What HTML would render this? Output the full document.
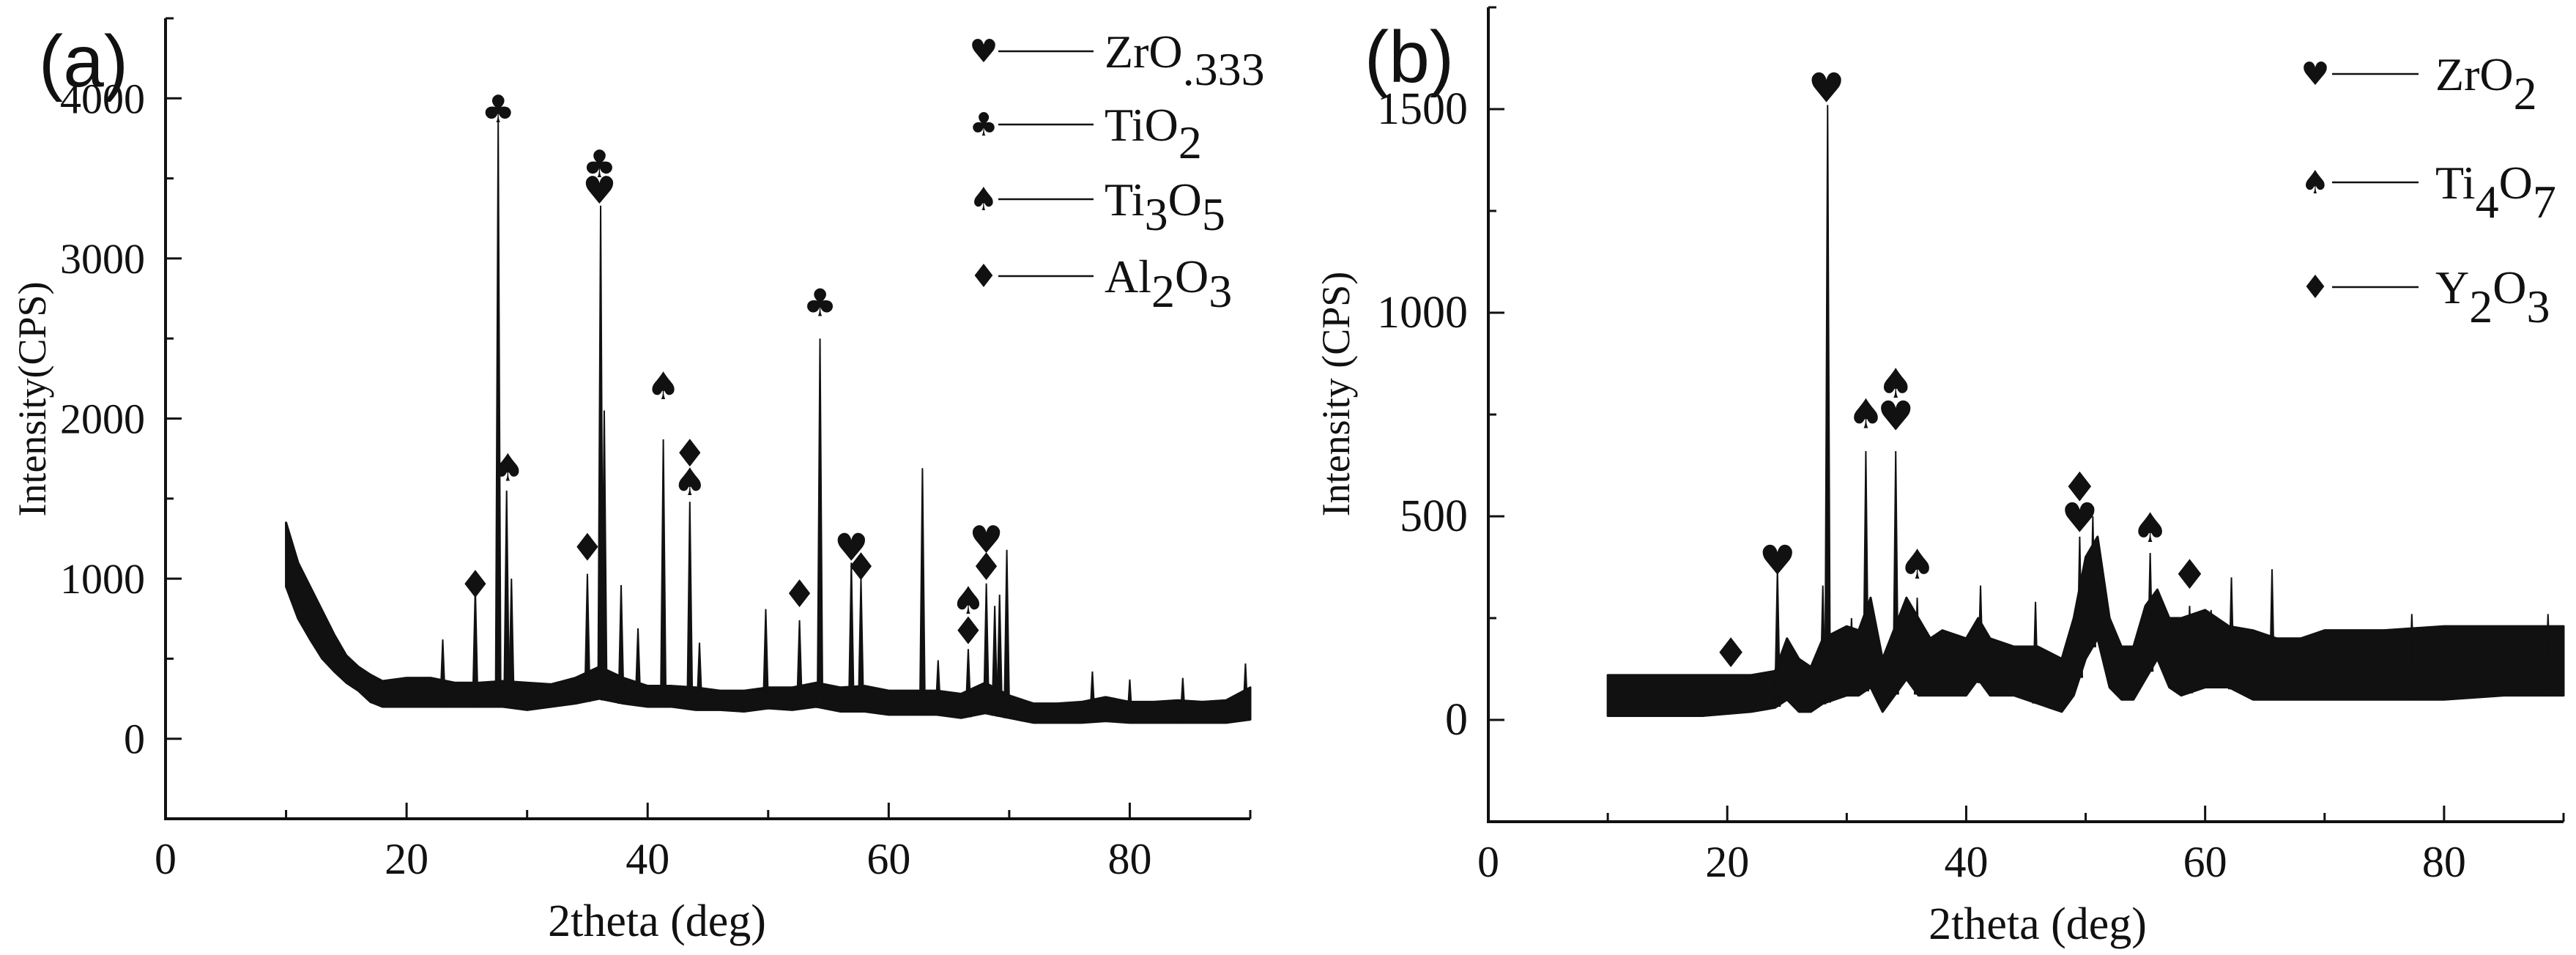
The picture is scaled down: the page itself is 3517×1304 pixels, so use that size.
<!DOCTYPE html>
<html><head><meta charset="utf-8">
<style>
html,body{margin:0;padding:0;background:#fff;}
svg{display:block;}
text{fill:#111;}
</style></head>
<body>
<svg id="chart" width="3517" height="1304" viewBox="0 0 3517 1304" xmlns="http://www.w3.org/2000/svg">
<rect width="3517" height="1304" fill="#fff"/>
</svg>
<script>
// ---------- Panel (a) data ----------
const aXTicks = [0, 20, 40, 60, 80];
const aYTicks = [0, 1000, 2000, 3000, 4000];
const aEnvX  = [10, 11, 12, 13, 14, 15, 16, 17, 18, 20, 22, 24, 26, 28, 30, 32, 34, 36, 38, 40, 42, 44, 46, 48, 50, 52, 54, 56, 58, 60, 62, 64, 66, 68, 70, 72, 74, 76, 78, 80, 82, 84, 86, 88, 90];
const aEnvLo = [950, 750, 620, 500, 420, 350, 300, 230, 200, 200, 200, 200, 200, 200, 180, 200, 220, 250, 220, 200, 200, 180, 180, 170, 190, 180, 200, 170, 170, 150, 150, 150, 130, 160, 130, 100, 100, 100, 110, 100, 100, 100, 100, 100, 120];
const aEnvHi = [1350, 1100, 950, 800, 650, 520, 450, 400, 360, 380, 380, 350, 350, 360, 350, 340, 380, 450, 380, 330, 330, 320, 300, 300, 320, 320, 350, 320, 330, 300, 300, 300, 280, 350, 270, 220, 220, 230, 260, 230, 230, 240, 230, 240, 320];
const aPeakX = [23.0, 25.7, 27.6, 28.3, 28.7, 35.0, 36.1, 36.4, 37.8, 39.2, 41.3, 43.5, 44.3, 49.8, 52.6, 54.3, 56.9, 57.7, 62.8, 64.1, 66.6, 68.1, 68.8, 69.2, 69.8, 76.9, 80.0, 84.4, 89.6];
const aPeakY = [620, 950, 3850, 1550, 1000, 1030, 3330, 2050, 960, 690, 1870, 1480, 600, 810, 740, 2500, 1100, 1000, 1690, 490, 560, 970, 830, 900, 1180, 420, 370, 380, 470];
const aMarkSym = ["club", "club", "heart", "spade", "spade", "diamond", "spade", "diamond", "diamond", "club", "diamond", "heart", "diamond", "spade", "diamond", "heart", "diamond"];
const aMarkX   = [27.6, 36.0, 36.0, 28.4, 41.3, 43.5, 43.5, 35.0, 25.7, 54.3, 52.6, 56.9, 57.7, 66.6, 66.6, 68.1, 68.1];
const aMarkY   = [3930, 3585, 3420, 1690, 2200, 1780, 1600, 1190, 960, 2720, 900, 1190, 1070, 860, 670, 1240, 1070];

// ---------- Panel (b) data ----------
const bXTicks = [0, 20, 40, 60, 80];
const bYTicks = [0, 500, 1000, 1500];
const bEnvX  = [10, 14, 18, 22, 24, 25, 26, 27, 28, 30, 31, 32, 33, 35, 36, 37, 38, 40, 41, 42, 44, 46, 48, 49, 50, 51, 52, 53, 54, 55, 56, 57, 58, 60, 62, 64, 66, 68, 70, 75, 80, 85, 90];
const bEnvLo = [10, 10, 10, 20, 30, 50, 20, 20, 40, 60, 60, 80, 20, 100, 60, 60, 60, 60, 100, 60, 60, 40, 20, 60, 150, 200, 80, 50, 50, 100, 150, 80, 60, 80, 80, 50, 50, 50, 50, 50, 50, 60, 60];
const bEnvHi = [110, 110, 110, 110, 120, 200, 150, 130, 200, 230, 220, 300, 150, 300, 250, 200, 220, 200, 250, 200, 180, 180, 150, 250, 400, 450, 250, 180, 180, 280, 320, 250, 250, 270, 230, 220, 200, 200, 220, 220, 230, 230, 230];
const bPeakX = [24.2, 28.0, 28.4, 30.4, 31.6, 34.1, 35.9, 41.2, 45.8, 49.5, 50.6, 55.4, 58.7, 60.5, 62.2, 65.6, 77.3, 88.7];
const bPeakY = [370, 330, 1510, 250, 660, 660, 300, 330, 290, 450, 500, 410, 280, 270, 350, 370, 260, 260];
const bMarkSym = ["diamond", "heart", "heart", "spade", "spade", "heart", "spade", "diamond", "heart", "spade", "diamond"];
const bMarkX   = [20.3, 24.2, 28.3, 31.6, 34.1, 34.1, 35.9, 49.5, 49.5, 55.4, 58.7];
const bMarkY   = [163, 390, 1550, 750, 825, 745, 380, 570, 495, 470, 355];

const NS = "http://www.w3.org/2000/svg";
const svg = document.getElementById("chart");
const GLYPH = {heart: "\u2665", club: "\u2663", spade: "\u2660", diamond: "\u2666"};
const SERIF = "font-family:'Liberation Serif',serif;";
const SANS = "font-family:'Liberation Sans',sans-serif;";
const SYM = "font-family:'DejaVu Sans',sans-serif;";

function mk(tag, attrs, parent) {
  const e = document.createElementNS(NS, tag);
  for (const k in attrs) e.setAttribute(k, attrs[k]);
  (parent || svg).appendChild(e);
  return e;
}
function lerp(xs, ys, x) {
  if (x <= xs[0]) return ys[0];
  for (let i = 1; i < xs.length; i++) {
    if (x <= xs[i]) { const t = (x - xs[i-1]) / (xs[i] - xs[i-1]); return ys[i-1] + t * (ys[i] - ys[i-1]); }
  }
  return ys[ys.length - 1];
}

function panel(cfg) {
  const g = mk("g", {});
  
  
  const sx = v => cfg.x0 + (v - cfg.xmin) / (cfg.xmax - cfg.xmin) * (cfg.x1 - cfg.x0);
  const sy = v => cfg.y0 - (v - cfg.ymin) / (cfg.ymax - cfg.ymin) * (cfg.y0 - cfg.y1);

  let pts = [];
  for (let i = 0; i < cfg.envX.length; i++) pts.push(sx(cfg.envX[i]) + "," + sy(cfg.envHi[i]));
  for (let i = cfg.envX.length - 1; i >= 0; i--) pts.push(sx(cfg.envX[i]) + "," + sy(cfg.envLo[i]));
  const band = mk("polygon", {points: pts.join(" "), fill: "#111", stroke: "#111", "stroke-width": 3, "stroke-linejoin": "round"}, g);
  
  

  for (let i = 0; i < cfg.peakX.length; i++) {
    const px = cfg.peakX[i], w = 0.22;
    const base = lerp(cfg.envX, cfg.envLo, px);
    const p = mk("polygon", {points: sx(px - w) + "," + sy(base) + " " + sx(px) + "," + sy(cfg.peakY[i]) + " " + sx(px + w) + "," + sy(base), fill: "#111", stroke: "#111", "stroke-width": 2, "stroke-linejoin": "miter"}, g);
    
    
  }

  for (let i = 0; i < cfg.markX.length; i++) {
    const t = mk("text", {x: sx(cfg.markX[i]), y: sy(cfg.markY[i]) + cfg.msize * 0.33, "text-anchor": "middle", style: SYM + "font-size:" + cfg.msize + "px;"}, g);
    t.textContent = GLYPH[cfg.markSym[i]];
    
    
  }

  const ax = mk("path", {d: "M" + cfg.x0 + "," + cfg.y1 + " L" + cfg.x0 + "," + cfg.y0 + " L" + cfg.x1 + "," + cfg.y0, fill: "none", stroke: "#111", "stroke-width": 4}, g);
  
  
  for (let v = cfg.xmin; v <= cfg.xmax + 0.001; v += 10) {
    const major = (v % 20 === 0);
    const tk = mk("line", {x1: sx(v), x2: sx(v), y1: cfg.y0, y2: cfg.y0 - (major ? 22 : 12), stroke: "#111", "stroke-width": 3}, g);
    
    
  }
  cfg.xTicks.forEach(v => {
    const t = mk("text", {x: sx(v), y: cfg.y0 + 75, "text-anchor": "middle", style: SERIF + "font-size:60px;"}, g);
    t.textContent = v;
    
    
  });
  for (let v = cfg.ymin; v <= cfg.ymax + 0.001; v += cfg.minorStep) {
    const major = cfg.yTicks.indexOf(v) >= 0;
    const tk = mk("line", {x1: cfg.x0, x2: cfg.x0 + (major ? 22 : 11), y1: sy(v), y2: sy(v), stroke: "#111", "stroke-width": 3}, g);
    
    
  }
  cfg.yTicks.forEach(v => {
    const t = mk("text", {x: cfg.x0 - 28, y: sy(v) + 20, "text-anchor": "end", style: SERIF + "font-size:" + cfg.ytfs + "px;"}, g);
    t.textContent = v;
    
    
  });
  const xt = mk("text", {x: cfg.xtx, y: cfg.y0 + 160, "text-anchor": "middle", style: SERIF + "font-size:62px;"}, g);
  xt.textContent = "2theta (deg)";
  
  
  const yt = mk("text", {x: 0, y: 0, "text-anchor": "middle", style: SERIF + "font-size:54px;", transform: "translate(" + cfg.ytx + "," + cfg.yty + ") rotate(-90)"}, g);
  yt.textContent = cfg.ytitle;
  
  
  const pl = mk("text", {x: cfg.plx, y: cfg.ply, "text-anchor": "middle", style: SANS + "font-size:100px;"}, g);
  pl.textContent = cfg.label;
  
  
  cfg.legend.forEach((L, i) => {
    const lg = mk("g", {}, g);
    
    
    const y = cfg.legY[i];
    const s = mk("text", {x: cfg.legMX, y: y + 15, "text-anchor": "middle", style: SYM + "font-size:44px;"}, lg);
    s.textContent = GLYPH[L.sym];
    mk("line", {x1: cfg.legL0, x2: cfg.legL1, y1: y, y2: y, stroke: "#111", "stroke-width": 2.5}, lg);
    const t = mk("text", {x: cfg.legTX, y: y + 22, style: SERIF + "font-size:" + cfg.legFs + "px;"}, lg);
    L.parts.forEach(p => {
      const ts = mk("tspan", {}, t);
      ts.textContent = p[0];
      if (p[1]) { ts.setAttribute("dy", p[1]); }
    });
  });
}

panel({name: "panel-a", x0: 226, x1: 1707, y0: 1118, y1: 25, xmin: 0, xmax: 90, ymin: -500, ymax: 4500, minorStep: 500,
  xTicks: aXTicks, yTicks: aYTicks, envX: aEnvX, envLo: aEnvLo, envHi: aEnvHi, peakX: aPeakX, peakY: aPeakY,
  markSym: aMarkSym, markX: aMarkX, markY: aMarkY, msize: 52, ytfs: 58,
  xtx: 897, ytx: 62, yty: 545, ytitle: "Intensity(CPS)", label: "(a)", plx: 114, ply: 118,
  legMX: 1343, legL0: 1363, legL1: 1493, legTX: 1508, legFs: 64, legY: [70, 170, 272, 377],
  legend: [
    {sym: "heart", parts: [["ZrO"], [".333", 24]]},
    {sym: "club", parts: [["TiO"], ["2", 24]]},
    {sym: "spade", parts: [["Ti"], ["3", 20], ["O", -20], ["5", 20]]},
    {sym: "diamond", parts: [["Al"], ["2", 20], ["O", -20], ["3", 20]]}
  ]});

panel({name: "panel-b", x0: 2032, x1: 3500, y0: 1122, y1: 10, xmin: 0, xmax: 90, ymin: -250, ymax: 1750, minorStep: 250,
  xTicks: bXTicks, yTicks: bYTicks, envX: bEnvX, envLo: bEnvLo, envHi: bEnvHi, peakX: bPeakX, peakY: bPeakY,
  markSym: bMarkSym, markX: bMarkX, markY: bMarkY, msize: 56, ytfs: 62,
  xtx: 2782, ytx: 1842, yty: 538, ytitle: "Intensity (CPS)", label: "(b)", plx: 1924, ply: 112,
  legMX: 3161, legL0: 3184, legL1: 3302, legTX: 3325, legFs: 64, legY: [101, 249, 392],
  legend: [
    {sym: "heart", parts: [["ZrO"], ["2", 26]]},
    {sym: "spade", parts: [["Ti"], ["4", 26], ["O", -26], ["7", 26]]},
    {sym: "diamond", parts: [["Y"], ["2", 26], ["O", -26], ["3", 26]]}
  ]});
</script>
</body></html>
